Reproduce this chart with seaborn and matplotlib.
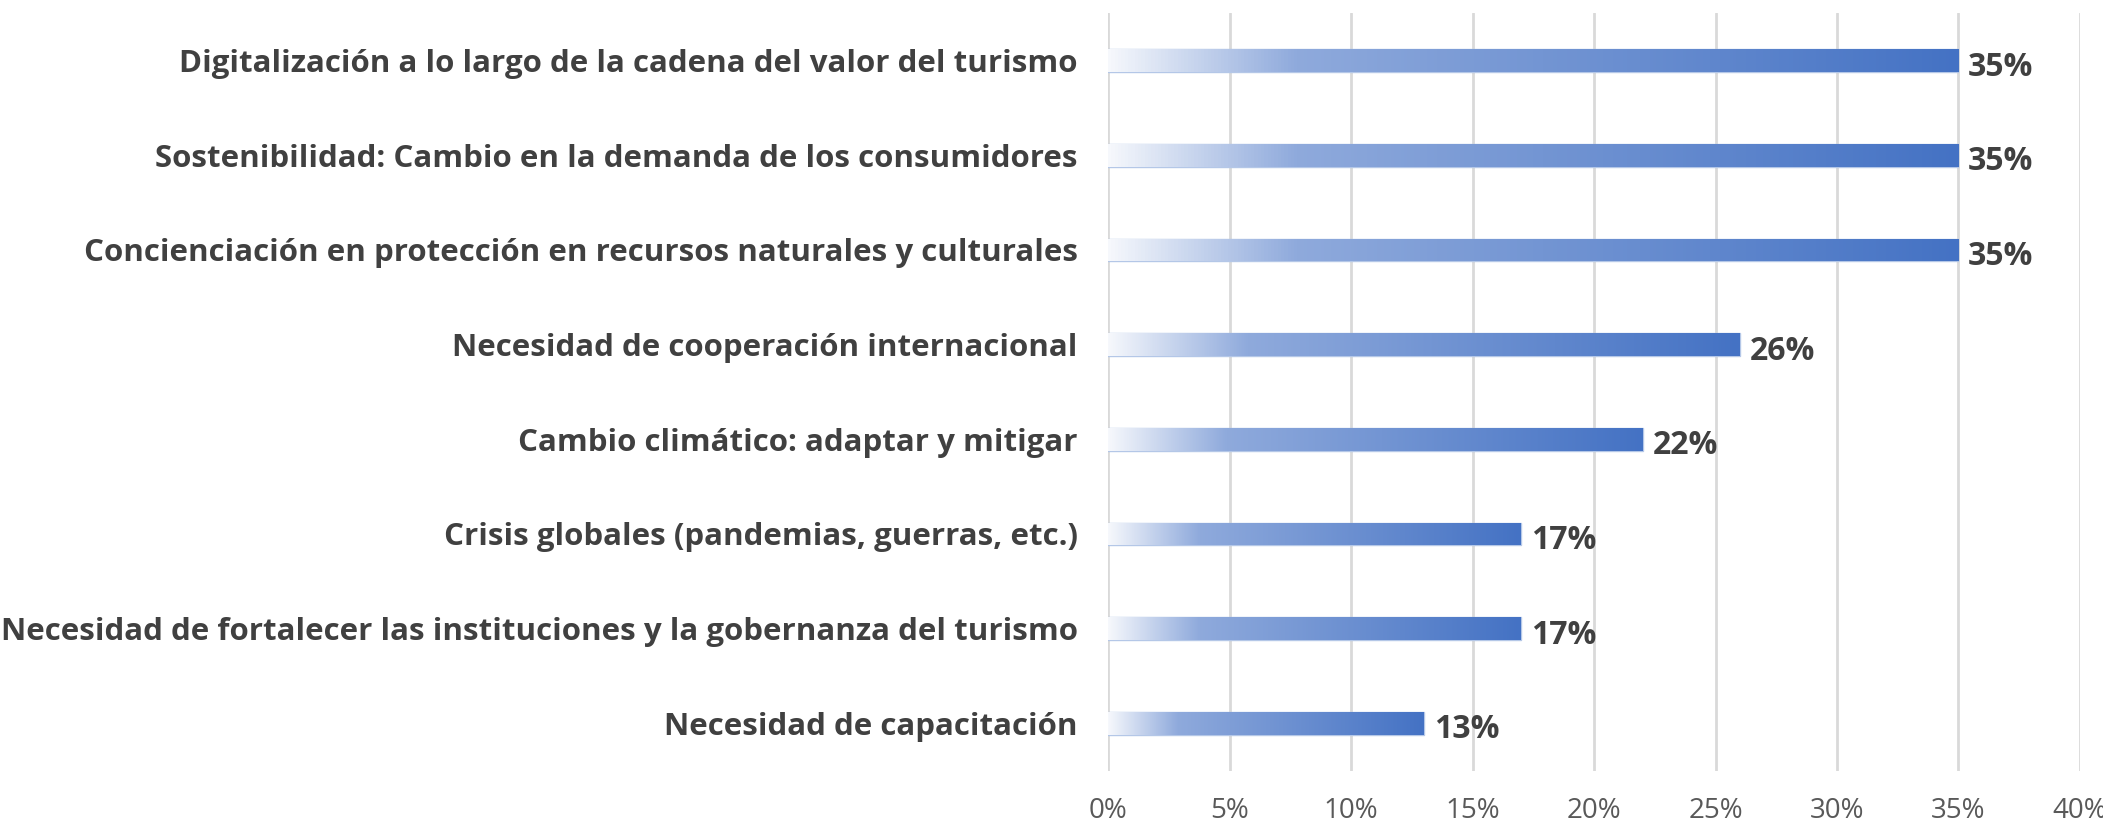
import matplotlib
matplotlib.use("Agg")
import matplotlib.pyplot as plt
from matplotlib.colors import LinearSegmentedColormap
from matplotlib.ticker import MultipleLocator, PercentFormatter
import numpy as np
import pandas as pd
import seaborn as sns

categories = [
    "Digitalización a lo largo de la cadena del valor del turismo",
    "Sostenibilidad: Cambio en la demanda de los consumidores",
    "Concienciación en protección en recursos naturales y culturales",
    "Necesidad de cooperación internacional",
    "Cambio climático: adaptar y mitigar",
    "Crisis globales (pandemias, guerras, etc.)",
    "Necesidad de fortalecer las instituciones y la gobernanza del turismo",
    "Necesidad de capacitación",
]
values = [35, 35, 35, 26, 22, 17, 17, 13]

df = pd.DataFrame({"tema": categories, "pct": values})

sns.set_style("white")
plt.rcParams["font.family"] = ["Open Sans", "DejaVu Sans"]

fig = plt.figure(figsize=(21.03, 8.26), dpi=100)
ax = fig.add_axes([0.527, 0.067, 0.462, 0.917])

sns.barplot(data=df, x="pct", y="tema", orient="h", width=0.24,
            color="#4472c4", edgecolor="#b4c7e7", linewidth=1, ax=ax)

# gradient fill, light on the left, solid blue on the right
cmap = LinearSegmentedColormap.from_list(
    "grad", [(0.0, "#f6f8fc"), (0.22, "#8faadc"), (1.0, "#4472c4")])
grad = np.linspace(0, 1, 256).reshape(1, -1)
for p in ax.patches:
    x0, y0 = p.get_x(), p.get_y()
    w, h = p.get_width(), p.get_height()
    im = ax.imshow(grad, cmap=cmap, aspect="auto", extent=[x0, x0 + w, y0 + h, y0],
                   zorder=p.get_zorder() + 0.1)
    im.set_clip_path(p)
    ax.text(x0 + w + 0.4, y0 + h / 2 + 0.07, f"{values[int(round(y0 + h / 2))]}%",
            va="center", ha="left", fontsize=23, fontweight="bold", color="#404040")

ax.set_xlim(0, 40)
ax.set_ylim(7.5, -0.5)
ax.xaxis.set_major_locator(MultipleLocator(5))
ax.xaxis.set_major_formatter(PercentFormatter(decimals=0))
ax.grid(axis="x", color="#d9d9d9", linewidth=2)
ax.set_axisbelow(True)
for s in ax.spines.values():
    s.set_visible(False)
ax.set_xlabel("")
ax.set_ylabel("")
ax.tick_params(axis="x", length=0, pad=19, labelsize=20, labelcolor="#595959")
ax.tick_params(axis="y", length=0, pad=22)
for lbl in ax.get_yticklabels():
    lbl.set_fontsize(22.5)
    lbl.set_fontweight("bold")
    lbl.set_color("#404040")

fig.savefig("out.png", dpi=100)
